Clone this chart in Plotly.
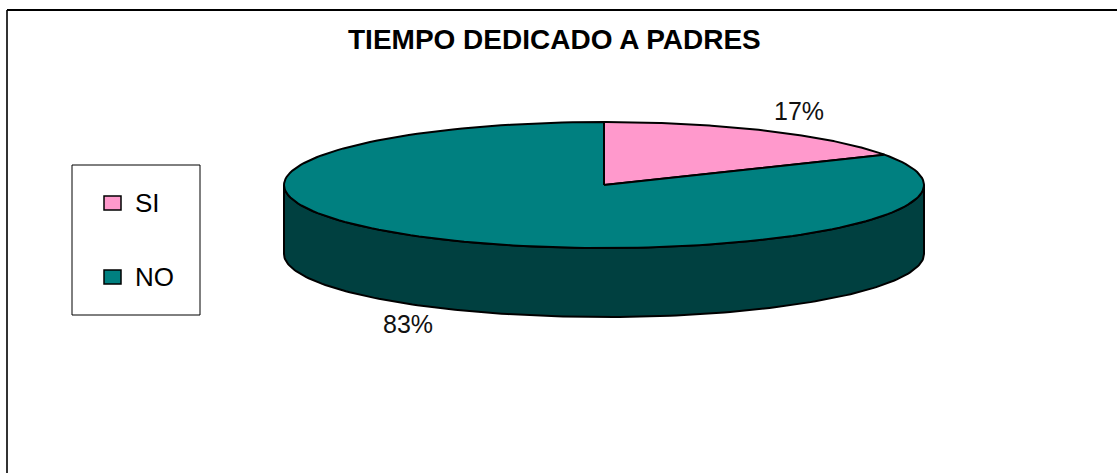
import numpy as np
import plotly.graph_objects as go

TITLE = "TIEMPO DEDICADO A PADRES"
categories = ["SI", "NO"]
values = [17, 83]
labels = ["17%", "83%"]
top_colors = ["#FF99CC", "#008080"]
side_color = "#004040"

# Pixel-space layout of the tilted pie
W, H = 1117, 473
CX, CY, RX, RY, DEPTH = 604, 185, 320, 63, 69
FONT = "Liberation Sans, Arial, sans-serif"
OUTLINE = dict(color="black", width=2)


def rim(a0, a1, dy=0, n=160):
    t = np.radians(np.linspace(a0, a1, n))
    return CX + RX * np.sin(t), CY + dy - RY * np.cos(t)


fig = go.Figure()

# Side wall: visible front half of the rim
xf, yf = rim(90, 270)
xb, yb = rim(270, 90, DEPTH)
fig.add_trace(go.Scatter(
    x=np.r_[xf, xb, xf[0]], y=np.r_[yf, yb, yf[0]],
    mode="lines", fill="toself", fillcolor=side_color,
    line=OUTLINE, hoverinfo="skip", showlegend=False,
))

# Top slices, clockwise from 12 o'clock, driven by the values
total = sum(values)
start = 0.0
for cat, val, col in zip(categories, values, top_colors):
    sweep = 360.0 * val / total
    xs, ys = rim(start, start + sweep)
    fig.add_trace(go.Scatter(
        x=np.r_[CX, xs, CX], y=np.r_[CY, ys, CY],
        mode="lines", fill="toself", fillcolor=col,
        line=OUTLINE, name=cat,
        hoverinfo="skip", showlegend=False,
    ))
    start += sweep

shapes = [
    # Outer chart frame: left and top edges are what the crop shows
    dict(type="line", x0=7, x1=7, y0=10, y1=H, line=dict(color="#333333", width=2)),
    dict(type="line", x0=7, x1=W, y0=10, y1=10, line=dict(color="black", width=2)),
    # Legend box
    dict(type="rect", x0=72, x1=200, y0=165, y1=315,
         line=dict(color="black", width=1), fillcolor="white"),
]
annotations = [
    dict(x=554.5, y=39.5, text=f"<b>{TITLE}</b>", showarrow=False,
         font=dict(family=FONT, size=28, color="black"), xanchor="center", yanchor="middle"),
]

legend_rows = [203, 277]
for cat, col, yrow in zip(categories, top_colors, legend_rows):
    shapes.append(dict(type="rect", x0=104, x1=121, y0=yrow - 7, y1=yrow + 7,
                       line=dict(color="black", width=1.5), fillcolor=col))
    annotations.append(dict(x=133, y=yrow, text=cat, showarrow=False, xanchor="left",
                            yanchor="middle", font=dict(family=FONT, size=26, color="black")))

for txt, pos in zip(labels, [(799, 110.5), (408, 323.5)]):
    annotations.append(dict(x=pos[0], y=pos[1], text=txt, showarrow=False,
                            xanchor="center", yanchor="middle",
                            font=dict(family=FONT, size=25, color="#111111")))

fig.update_layout(
    width=W, height=H,
    margin=dict(l=0, r=0, t=0, b=0),
    paper_bgcolor="white", plot_bgcolor="white",
    xaxis=dict(range=[0, W], visible=False, fixedrange=True),
    yaxis=dict(range=[H, 0], visible=False, fixedrange=True),
    shapes=shapes, annotations=annotations,
    showlegend=False,
)

fig.write_html(
    "out.html",
    config=dict(displayModeBar=False),
    post_script="document.body.style.margin='0';document.body.style.overflow='hidden';",
)
